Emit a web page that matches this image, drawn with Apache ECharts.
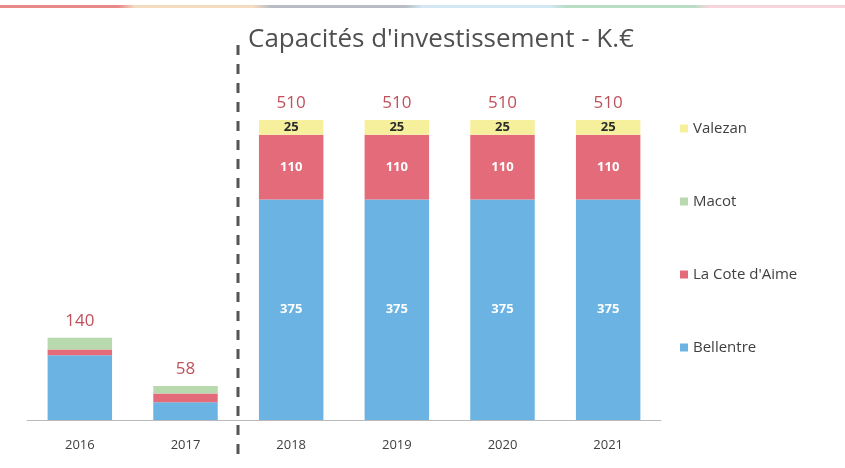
<!DOCTYPE html>
<html>
<head>
<meta charset="utf-8">
<script src="https://cdn.jsdelivr.net/npm/echarts@6/dist/echarts.min.js"></script>
<style>
  html, body { margin: 0; padding: 0; background: #fff; }
  #main { width: 845px; height: 468px; }
</style>
</head>
<body>
<div id="main"></div>
<script>
var years = ['2016', '2017', '2018', '2019', '2020', '2021'];
var bellentre = [110, 30, 375, 375, 375, 375];
var coteAime = [10, 15, 110, 110, 110, 110];
var macot = [20, 13, 0, 0, 0, 0];
var valezan = [0, 0, 25, 25, 25, 25];
var totals = [140, 58, 510, 510, 510, 510];

var myChart = echarts.init(document.getElementById('main'));

// labels inside segments only for the forecast years
function segLabel(color) {
    return {
        show: true,
        color: color,
        fontSize: 13,
        fontWeight: 'bold',
        fontFamily: 'Open Sans',
        formatter: function (p) {
            return p.dataIndex >= 2 && p.value > 0 ? p.value : '';
        }
    };
}

var option = {
    backgroundColor: '#fff',
    animation: false,
    title: {
        text: "Capacités d'investissement - K.€",
        left: 243,
        top: 22,
        textStyle: { color: '#505050', fontSize: 26, fontWeight: 'normal', fontFamily: 'Open Sans' }
    },
    legend: {
        orient: 'vertical',
        left: 675,
        top: 116,
        itemWidth: 8,
        itemHeight: 8,
        itemGap: 58,
        icon: 'rect',
        data: ['Valezan', 'Macot', "La Cote d'Aime", 'Bellentre'],
        textStyle: { color: '#404040', fontSize: 15, fontFamily: 'Open Sans' }
    },
    grid: { left: 27, right: 184, top: 67, bottom: 48 },
    xAxis: {
        type: 'category',
        data: years,
        axisLine: { lineStyle: { color: '#bbb' } },
        axisTick: { show: false },
        axisLabel: { color: '#404040', fontSize: 13, margin: 19, fontFamily: 'Open Sans' }
    },
    yAxis: {
        type: 'value',
        min: 0,
        max: 600,
        show: false,
        splitLine: { show: false }
    },
    series: [
        {
            name: 'Bellentre', type: 'bar', stack: 's', data: bellentre, barWidth: '61%',
            itemStyle: { color: '#6ab3e3' }, label: segLabel('#fff')
        },
        {
            name: "La Cote d'Aime", type: 'bar', stack: 's', data: coteAime,
            itemStyle: { color: '#e36b7a' }, label: segLabel('#fff')
        },
        {
            name: 'Macot', type: 'bar', stack: 's', data: macot,
            itemStyle: { color: '#b8d8ae' }, label: { show: false }
        },
        {
            name: 'Valezan', type: 'bar', stack: 's', data: valezan,
            itemStyle: { color: '#f6f09c' }, label: segLabel('#2b2b2b')
        },
        {
            name: 'total', type: 'bar', stack: 's',
            data: totals.map(function () { return 0; }),
            itemStyle: { color: 'transparent' },
            label: {
                show: true, position: 'top', distance: 8,
                color: '#c0505a', fontSize: 17, fontFamily: 'Open Sans',
                formatter: function (p) { return totals[p.dataIndex]; }
            }
        }
    ]
};

myChart.setOption(option);

// dashed separator between actuals and forecast, plus the faint strip on top
var x1 = myChart.convertToPixel({ xAxisIndex: 0 }, years[1]);
var x2 = myChart.convertToPixel({ xAxisIndex: 0 }, years[2]);
var sepX = Math.round((x1 + x2) / 2);
myChart.setOption({
    graphic: [
        {
            type: 'line',
            shape: { x1: sepX, y1: 45, x2: sepX, y2: 462 },
            style: { stroke: '#555', lineWidth: 3, lineDash: [10, 9] }
        },
        {
            type: 'rect',
            shape: { x: 0, y: 5, width: 845, height: 3 },
            style: {
                fill: new echarts.graphic.LinearGradient(0, 0, 1, 0, [
                    { offset: 0, color: '#e88a8a' },
                    { offset: 0.14, color: '#e88a8a' },
                    { offset: 0.16, color: '#f3dcc0' },
                    { offset: 0.3, color: '#f3dcc0' },
                    { offset: 0.32, color: '#b8bcc4' },
                    { offset: 0.48, color: '#b8bcc4' },
                    { offset: 0.5, color: '#d4e8f4' },
                    { offset: 0.65, color: '#d4e8f4' },
                    { offset: 0.67, color: '#b8dcc4' },
                    { offset: 0.82, color: '#b8dcc4' },
                    { offset: 0.84, color: '#f6d6dc' },
                    { offset: 1, color: '#f6d6dc' }
                ])
            }
        }
    ]
});
</script>
</body>
</html>
